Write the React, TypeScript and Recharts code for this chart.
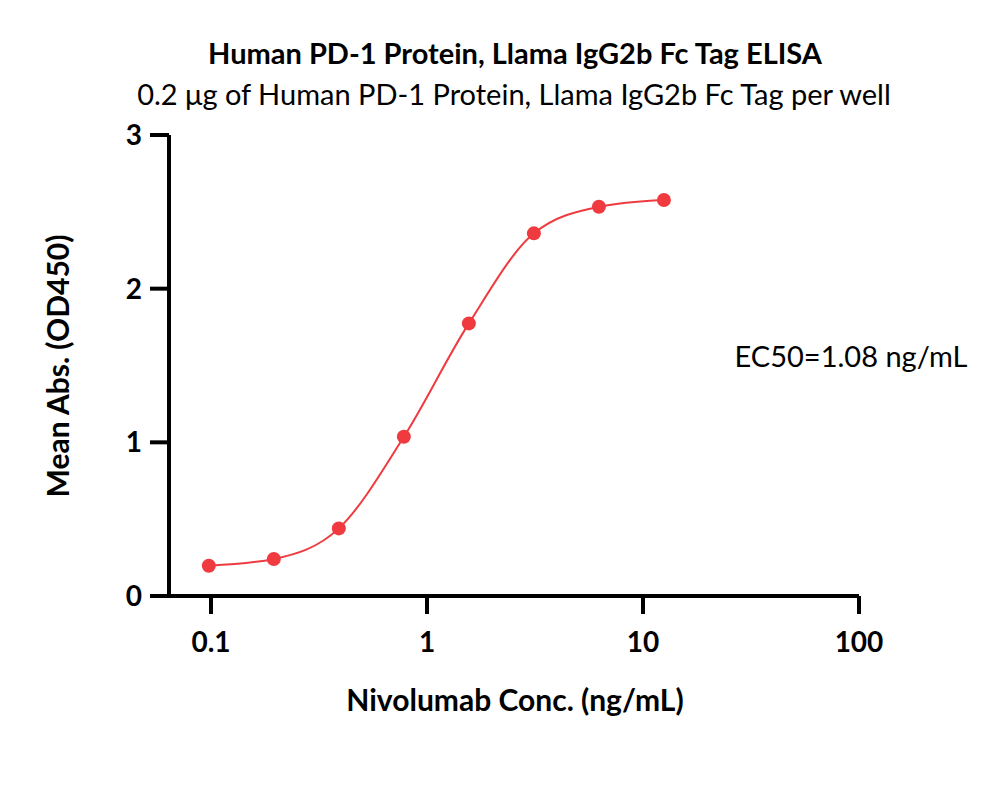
import { ComposedChart, Line, XAxis, YAxis } from "recharts";

const concentrations = [0.0977, 0.1953, 0.3906, 0.7813, 1.5625, 3.125, 6.25, 12.5];
const absorbance = [0.197, 0.241, 0.44, 1.036, 1.774, 2.36, 2.533, 2.577];
const xTicks = [0.1, 1, 10, 100];
const yTicks = [0, 1, 2, 3];

const data = concentrations.map((c, i) => ({ conc: c, od: absorbance[i] }));

const RED = "#EF3B3F";
const FONT = "Lato, 'Open Sans', sans-serif";

const tickStyle = { fill: "#000", fontSize: 28, fontWeight: 700, fontFamily: FONT };

function Text({ x, y, size, bold, children, rotate }: any) {
  return (
    <div
      style={{
        position: "absolute",
        left: x,
        top: y,
        transform: `translate(-50%, -50%)${rotate ? ` rotate(${rotate}deg)` : ""}`,
        fontSize: size,
        fontWeight: bold ? 700 : 400,
        fontFamily: FONT,
        whiteSpace: "nowrap",
        lineHeight: 1,
        color: "#000",
      }}
    >
      {children}
    </div>
  );
}

export default function App() {
  return (
    <div style={{ position: "absolute", left: 0, top: 0, width: 1000, height: 789, background: "#fff" }}>
      <ComposedChart
        width={1000}
        height={789}
        data={data}
        margin={{ top: 135, right: 141, bottom: 100, left: 69 }}
      >
        <XAxis
          dataKey="conc"
          type="number"
          scale="log"
          domain={[0.0639, 100]}
          allowDataOverflow
          ticks={xTicks}
          tickFormatter={(v: number) => String(v)}
          tick={tickStyle}
          axisLine={{ stroke: "#000", strokeWidth: 4 }}
          tickLine={{ stroke: "#000", strokeWidth: 4 }}
          tickSize={18}
          tickMargin={18}
          height={93}
        />
        <YAxis
          type="number"
          domain={[0, 3]}
          ticks={yTicks}
          tick={tickStyle}
          axisLine={{ stroke: "#000", strokeWidth: 4 }}
          tickLine={{ stroke: "#000", strokeWidth: 4 }}
          tickSize={19}
          tickMargin={8}
          width={100}
        />
        <Line
          dataKey="od"
          type="monotone"
          stroke={RED}
          strokeWidth={2}
          dot={{ r: 7, fill: RED, stroke: "none" }}
          isAnimationActive={false}
        />
      </ComposedChart>
      <Text x={515} y={52} size={29} bold>
        Human PD-1 Protein, Llama IgG2b Fc Tag ELISA
      </Text>
      <Text x={514} y={93} size={29}>
        0.2 μg of Human PD-1 Protein, Llama IgG2b Fc Tag per well
      </Text>
      <Text x={851} y={355} size={29}>
        EC50=1.08 ng/mL
      </Text>
      <Text x={515} y={699} size={30} bold>
        Nivolumab Conc. (ng/mL)
      </Text>
      <Text x={57} y={366} size={30} bold rotate={-90}>
        Mean Abs. (OD450)
      </Text>
    </div>
  );
}
